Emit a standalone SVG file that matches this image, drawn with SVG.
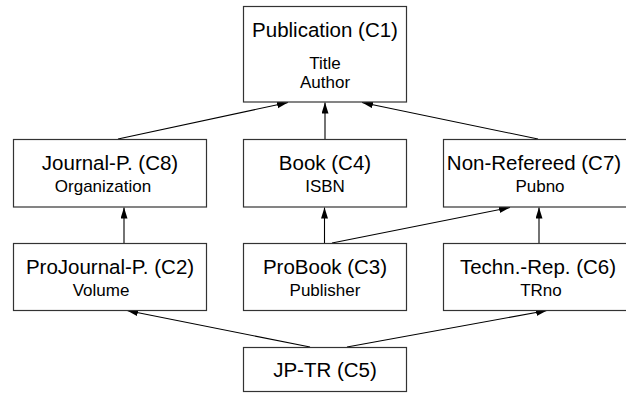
<svg xmlns="http://www.w3.org/2000/svg" width="626" height="396" viewBox="0 0 626 396">
<style>
.box{fill:#fff;stroke:#333;stroke-width:1.2}
.t{font-family:"Liberation Sans",Arial,sans-serif;font-size:20.5px;fill:#000;text-anchor:middle}
.s{font-family:"Liberation Sans",Arial,sans-serif;font-size:17px;fill:#000;text-anchor:middle}
.c{stroke:#000;stroke-width:1.1;fill:none;marker-end:url(#ah)}
</style>
<defs>
<marker id="ah" markerUnits="userSpaceOnUse" markerWidth="12" markerHeight="8" refX="11" refY="3.5" orient="auto">
<path d="M0,0 L11,3.5 L0,7 z" fill="#000"/>
</marker>
</defs>
<rect width="626" height="396" fill="#fff"/>
<g id="connectors">
<line class="c" x1="118" y1="139" x2="288" y2="102.5"/>
<line class="c" x1="325" y1="139" x2="325" y2="102.5"/>
<line class="c" x1="538" y1="139" x2="362" y2="102.5"/>
<line class="c" x1="124" y1="243" x2="124" y2="207.5"/>
<line class="c" x1="324.5" y1="243" x2="324.5" y2="207.5"/>
<line class="c" x1="332" y1="243" x2="510" y2="207.5"/>
<line class="c" x1="539" y1="243" x2="539" y2="207.5"/>
<line class="c" x1="310" y1="347" x2="127" y2="310.5"/>
<line class="c" x1="347" y1="347" x2="547" y2="310.5"/>
</g>
<g id="C1">
<rect class="box" x="243.5" y="6.5" width="163" height="95.5"/>
<text class="t" x="325" y="37">Publication (C1)</text>
<text class="s" x="325" y="69">Title</text>
<text class="s" x="325" y="88">Author</text>
</g>
<g id="C8">
<rect class="box" x="13.5" y="139.5" width="193" height="67.5"/>
<text class="t" x="110" y="170">Journal-P. (C8)</text>
<text class="s" x="103" y="192">Organization</text>
</g>
<g id="C4">
<rect class="box" x="243.5" y="139.5" width="163" height="67.5"/>
<text class="t" x="325" y="170">Book (C4)</text>
<text class="s" x="325" y="192">ISBN</text>
</g>
<g id="C7">
<rect class="box" x="443.5" y="139.5" width="186" height="67.5"/>
<text class="t" x="534" y="170">Non-Refereed (C7)</text>
<text class="s" x="540" y="192">Pubno</text>
</g>
<g id="C2">
<rect class="box" x="13.5" y="243.5" width="193" height="67"/>
<text class="t" x="110" y="274">ProJournal-P. (C2)</text>
<text class="s" x="101" y="296">Volume</text>
</g>
<g id="C3">
<rect class="box" x="243.5" y="243.5" width="163" height="67"/>
<text class="t" x="325" y="274">ProBook (C3)</text>
<text class="s" x="325" y="296">Publisher</text>
</g>
<g id="C6">
<rect class="box" x="443.5" y="243.5" width="186" height="67"/>
<text class="t" x="538" y="274">Techn.-Rep. (C6)</text>
<text class="s" x="541" y="296">TRno</text>
</g>
<g id="C5">
<rect class="box" x="243.5" y="347.5" width="163" height="44"/>
<text class="t" x="325" y="377">JP-TR (C5)</text>
</g>
</svg>
